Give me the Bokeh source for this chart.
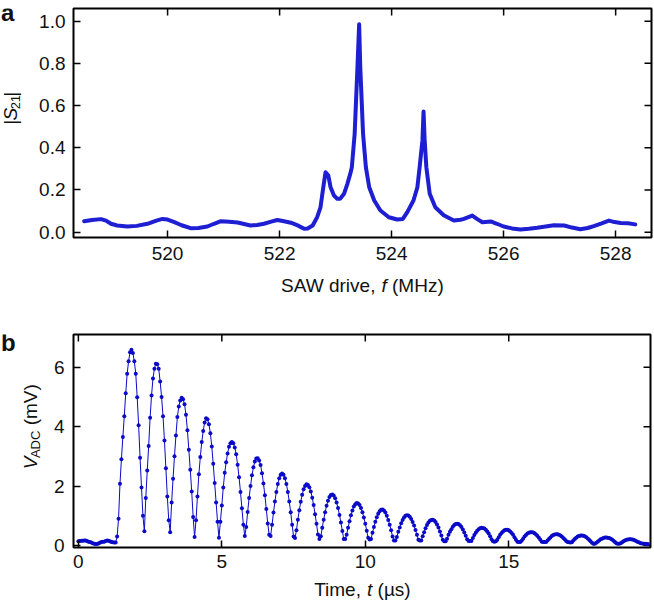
import math
from bokeh.plotting import figure
from bokeh.layouts import column, row
from bokeh.models import FixedTicker, PrintfTickFormatter
from bokeh.core.properties import value
from bokeh.embed import file_html
from bokeh.resources import INLINE

# ---------------- data: panel a ----------------
freq_mhz = [518.51, 518.65, 518.81, 518.90, 518.99, 519.10, 519.28, 519.45, 519.64, 519.80,
            519.91, 520.00, 520.12, 520.25, 520.41, 520.55, 520.71, 520.83, 520.95, 521.10,
            521.25, 521.48, 521.60, 521.72, 521.85, 521.96, 522.08, 522.20, 522.30, 522.38,
            522.44, 522.50, 522.59, 522.67, 522.73, 522.78, 522.82, 522.87, 522.91, 522.97,
            523.03, 523.08, 523.15, 523.21, 523.26, 523.29, 523.34, 523.39, 523.42, 523.44,
            523.49, 523.54, 523.60, 523.69, 523.80, 523.95, 524.10, 524.20, 524.28, 524.39,
            524.46, 524.50, 524.55, 524.57, 524.59, 524.62, 524.68, 524.78, 524.93, 525.11,
            525.23, 525.29, 525.44, 525.53, 525.62, 525.77, 525.88, 526.00, 526.15, 526.30,
            526.45, 526.60, 526.75, 526.90, 527.08, 527.22, 527.37, 527.50, 527.61, 527.75,
            527.88, 527.98, 528.09, 528.22, 528.35]
s21_mag = [0.052, 0.058, 0.062, 0.055, 0.040, 0.032, 0.027, 0.030, 0.040, 0.055,
           0.063, 0.060, 0.048, 0.033, 0.019, 0.020, 0.027, 0.040, 0.052, 0.050,
           0.046, 0.032, 0.034, 0.040, 0.050, 0.058, 0.052, 0.045, 0.035, 0.024,
           0.016, 0.018, 0.032, 0.071, 0.118, 0.213, 0.284, 0.268, 0.213, 0.174,
           0.158, 0.158, 0.182, 0.229, 0.275, 0.308, 0.466, 0.782, 0.985, 0.782,
           0.466, 0.308, 0.213, 0.150, 0.103, 0.071, 0.060, 0.063, 0.095, 0.150,
           0.213, 0.308, 0.435, 0.572, 0.435, 0.308, 0.182, 0.118, 0.080, 0.055,
           0.059, 0.063, 0.079, 0.062, 0.047, 0.051, 0.040, 0.027, 0.018, 0.013,
           0.016, 0.021, 0.027, 0.033, 0.032, 0.022, 0.014, 0.020, 0.029, 0.042,
           0.055, 0.048, 0.044, 0.042, 0.037]
a_xticks = [520, 522, 524, 526, 528]
a_yticks = [0.0, 0.2, 0.4, 0.6, 0.8, 1.0]

# ---------------- data: panel b ----------------
t_step_us = 0.05
v_adc_mv = [
    0.14, 0.15, 0.16, 0.16, 0.17, 0.17, 0.15, 0.13, 0.12, 0.10, 0.08, 0.06, 0.05, 0.05, 0.07, 0.09, 0.12, 0.13, 0.13, 0.15,
    0.17, 0.16, 0.14, 0.12, 0.11, 0.10, 0.10, 0.30, 0.90, 2.08, 2.90, 3.65, 4.35, 5.12, 5.78, 6.20, 6.50, 6.59, 6.48, 6.20,
    5.78, 4.99, 4.05, 2.95, 1.95, 1.00, 0.48, 1.60, 2.52, 3.35, 4.30, 5.05, 5.62, 5.95, 6.12, 6.10, 5.95, 5.52, 5.00, 4.35,
    3.53, 2.60, 1.65, 0.85, 0.45, 1.45, 2.25, 3.00, 3.70, 4.32, 4.68, 4.88, 4.97, 4.92, 4.75, 4.40, 3.88, 3.22, 2.55, 1.82,
    0.96, 0.29, 0.85, 1.65, 2.40, 2.98, 3.48, 3.85, 4.14, 4.28, 4.25, 4.08, 3.78, 3.33, 2.75, 2.10, 1.45, 0.80, 0.26, 0.80,
    1.35, 1.95, 2.45, 2.80, 3.10, 3.32, 3.44, 3.48, 3.44, 3.30, 3.07, 2.72, 2.30, 1.80, 1.25, 0.70, 0.32, 0.62, 1.13, 1.60,
    2.00, 2.36, 2.63, 2.83, 2.93, 2.94, 2.86, 2.71, 2.43, 2.09, 1.69, 1.23, 0.74, 0.36, 0.32, 0.70, 1.11, 1.48, 1.80, 2.07,
    2.26, 2.38, 2.42, 2.38, 2.26, 2.07, 1.80, 1.48, 1.12, 0.70, 0.30, 0.25, 0.51, 0.87, 1.19, 1.47, 1.71, 1.89, 2.00, 2.06,
    2.04, 1.96, 1.82, 1.61, 1.36, 1.05, 0.73, 0.37, 0.22, 0.31, 0.60, 0.87, 1.12, 1.34, 1.51, 1.63, 1.70, 1.72, 1.68, 1.59,
    1.45, 1.26, 1.03, 0.77, 0.49, 0.22, 0.22, 0.36, 0.60, 0.82, 1.02, 1.18, 1.31, 1.39, 1.43, 1.41, 1.36, 1.26, 1.12, 0.94,
    0.73, 0.50, 0.26, 0.20, 0.22, 0.43, 0.62, 0.80, 0.95, 1.07, 1.15, 1.20, 1.21, 1.18, 1.11, 1.00, 0.86, 0.70, 0.51, 0.30,
    0.17, 0.17, 0.29, 0.46, 0.61, 0.75, 0.86, 0.94, 1.00, 1.02, 1.01, 0.97, 0.89, 0.79, 0.67, 0.52, 0.36, 0.19, 0.17, 0.17,
    0.31, 0.45, 0.58, 0.69, 0.77, 0.83, 0.86, 0.87, 0.84, 0.79, 0.71, 0.61, 0.47, 0.34, 0.19, 0.14, 0.14, 0.23, 0.36, 0.46,
    0.55, 0.63, 0.69, 0.72, 0.73, 0.72, 0.68, 0.62, 0.54, 0.44, 0.33, 0.21, 0.15, 0.15, 0.15, 0.25, 0.35, 0.43, 0.50, 0.55,
    0.58, 0.60, 0.59, 0.57, 0.53, 0.47, 0.40, 0.31, 0.21, 0.14, 0.13, 0.14, 0.19, 0.28, 0.36, 0.42, 0.47, 0.51, 0.53, 0.53,
    0.51, 0.47, 0.42, 0.36, 0.28, 0.19, 0.13, 0.12, 0.12, 0.16, 0.23, 0.30, 0.35, 0.40, 0.43, 0.45, 0.45, 0.44, 0.41, 0.37,
    0.32, 0.26, 0.19, 0.13, 0.12, 0.12, 0.12, 0.17, 0.22, 0.27, 0.32, 0.35, 0.37, 0.38, 0.38, 0.36, 0.34, 0.30, 0.25, 0.21,
    0.15, 0.12, 0.11, 0.10, 0.11, 0.17, 0.22, 0.26, 0.30, 0.32, 0.34, 0.34, 0.33, 0.31, 0.28, 0.24, 0.19, 0.14, 0.09, 0.06,
    0.06, 0.09, 0.13, 0.17, 0.21, 0.23, 0.25, 0.27, 0.27, 0.26, 0.25, 0.23, 0.20, 0.16, 0.12, 0.08, 0.06, 0.06, 0.08, 0.11,
    0.14, 0.17, 0.19, 0.20, 0.21, 0.21, 0.20, 0.19, 0.17, 0.14, 0.12, 0.10, 0.08, 0.07, 0.06, 0.06, 0.05, 0.05,
]
time_us = [round(i * t_step_us, 2) for i in range(len(v_adc_mv))]
b_xticks = [0, 5, 10, 15]
b_yticks = [0, 2, 4, 6]

FONT = "Liberation Sans"
TXT = "#111111"
FS = 19  # px
ANG = math.pi / 2
K = 0.35  # anchor sits this many em from the baseline (text drawn centred on anchor)


def style_axis(ax, ticks, standoff, fmt=None):
    ax.ticker = FixedTicker(ticks=ticks)
    ax.major_tick_in = 7
    ax.major_tick_out = 0
    ax.minor_tick_in = 0
    ax.minor_tick_out = 0
    ax.major_tick_line_width = 1.5
    ax.major_tick_line_color = "black"
    ax.axis_line_color = None
    ax.major_label_text_font = FONT
    ax.major_label_text_color = TXT
    ax.major_label_text_font_size = f"{FS}px"
    ax.major_label_standoff = standoff
    if fmt is not None:
        ax.formatter = fmt


def make_plot(w, h, xr, yr, bl, br, bt, bb, xticks, yticks, yfmt, ystand, xstand):
    p = figure(width=w, height=h, x_range=xr, y_range=yr, title=None,
               output_backend="svg", toolbar_location=None,
               min_border_left=bl, min_border_right=br,
               min_border_top=bt, min_border_bottom=bb)
    p.xgrid.visible = False
    p.ygrid.visible = False
    p.outline_line_color = "black"
    p.outline_line_width = 2
    p.background_fill_color = "white"
    p.border_fill_color = "white"
    style_axis(p.xaxis[0], xticks, xstand)
    style_axis(p.yaxis[0], yticks, ystand, yfmt)
    # inward ticks on the top and right edges (outer half clipped by the frame)
    p.scatter(xticks, [yr[1]] * len(xticks), marker="dash", angle=ANG, size=14,
              line_color="black", line_width=1.5)
    p.scatter([xr[1]] * len(yticks), yticks, marker="dash", size=14,
              line_color="black", line_width=1.5)
    return p


def text_box(w, h, top=0):
    # frame is w x (h - top); data units == pixels, y measured up from the bottom
    p = figure(width=w, height=h, x_range=(0, w), y_range=(0, h - top),
               title=None, output_backend="svg", toolbar_location=None,
               x_axis_location=None, y_axis_location=None,
               min_border=0, min_border_left=0, min_border_right=0,
               min_border_top=top, min_border_bottom=0, outline_line_color=None)
    p.xgrid.visible = False
    p.ygrid.visible = False
    p.background_fill_color = "white"
    p.border_fill_color = "white"
    return p


def put(p, x, y, txt, size=FS, style="normal", angle=0.0):
    p.text(x=[x], y=[y], text=[txt], text_font=value(FONT),
           text_font_size=value(f"{size}px"), text_font_style=style,
           text_color=TXT, angle=angle, text_align="left",
           text_baseline="alphabetic")


# ---------------- panel a ----------------
pa = make_plot(618, 270, (518.32, 528.64), (-0.0251, 1.060), 36, 3, 8, 33,
               a_xticks, a_yticks, PrintfTickFormatter(format="%.1f"), 8, 9)
pa.line(freq_mhz, s21_mag, line_color="#1e1ed2", line_width=4,
        line_join="round", line_cap="round")

# left strip of row a: frame spans page y 8..270
ya = text_box(36, 270, top=8)
put(ya, 0.5, 270 - (21 - K * 24), "a", 24, "bold")
y0 = 270 - 141
xs = 17 - K * FS
put(ya, xs, y0, "|", angle=ANG)
put(ya, xs, y0 + 4.9, "S", style="italic", angle=ANG)
put(ya, 20 - K * 13, y0 + 17.6, "21", size=13, angle=ANG)
put(ya, xs, y0 + 32.1, "|", angle=ANG)

# strip under panel a: page y 270..310
xa = text_box(654, 40)
x0 = 361.9 - 81.3
ytx = 310 - (292 - K * FS)
put(xa, x0, ytx, "SAW drive,")
put(xa, x0 + 100.3, ytx, "f", style="italic")
put(xa, x0 + 110.9, ytx, "(MHz)")

# ---------------- panel b ----------------
pb = make_plot(610, 268, (-0.17, 19.94), (-0.067, 7.10), 29, 4, 24, 31,
               b_xticks, b_yticks, None, 9, 7)
pb.line(time_us, v_adc_mv, line_color="#0a0ac8", line_width=1)
pb.scatter(time_us, v_adc_mv, size=4, fill_color="#0a0ac8", line_color=None)

# left strip of row b: frame spans page y 334..578
yb = text_box(44, 268, top=24)
put(yb, 0.5, 578 - (352 - K * 24), "b", 24, "bold")
y1 = 578 - 488.5
xv = 36.5 - K * FS
put(yb, xv, y1, "V", style="italic", angle=ANG)
put(yb, 39.5 - K * 13, y1 + 12.9, "ADC", size=13, angle=ANG)
put(yb, xv, y1 + 50.5, "(mV)", angle=ANG)

# strip under panel b: page y 578..602
xb = text_box(654, 24)
x1 = 361.9 - 48.25
ytb = 602 - (595.5 - K * FS)
put(xb, x1, ytb, "Time,")
put(xb, x1 + 52.8, ytb, "t", style="italic")
put(xb, x1 + 63.4, ytb, "(\u00b5s)")

layout = column(row(ya, pa), xa, row(yb, pb), xb)
open("out.html", "w").write(file_html(layout, INLINE))
